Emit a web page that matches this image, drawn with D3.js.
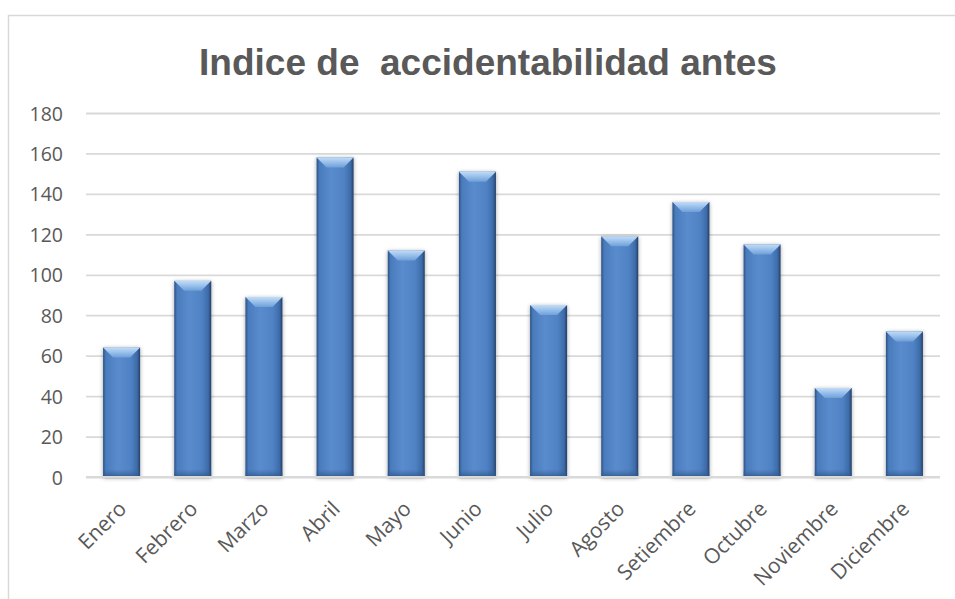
<!DOCTYPE html>
<html>
<head>
<meta charset="utf-8">
<script src="https://cdn.jsdelivr.net/npm/d3@7"></script>
<style>
  body { margin: 0; background: #fff; }
  svg { display: block; }
</style>
</head>
<body>
<div id="chart"></div>
<script>
// -- DATA --
var months = ['Enero', 'Febrero', 'Marzo', 'Abril', 'Mayo', 'Junio', 'Julio',
  'Agosto', 'Setiembre', 'Octubre', 'Noviembre', 'Diciembre']
var values = [64, 97, 89, 158, 112, 151, 85, 119, 136, 115, 44, 72]
var yTicks = [0, 20, 40, 60, 80, 100, 120, 140, 160, 180]
var title = 'Indice de  accidentabilidad antes'

// -- LAYOUT --
width = 955
height = 599
margin = {left:86, right:15, top:113, bottom:122}

var svg = d3.select('#chart').append('svg')
  .attr('width', width)
  .attr('height', height)

var defs = svg.append('defs')

// body gradient: dark edges, lighter middle
var gBody = defs.append('linearGradient').attr('id', 'barBody')
  .attr('x1', 0).attr('x2', 1).attr('y1', 0).attr('y2', 0)
gBody.append('stop').attr('offset', '0%').attr('stop-color', '#2c5284')
gBody.append('stop').attr('offset', '8%').attr('stop-color', '#4a7cbd')
gBody.append('stop').attr('offset', '40%').attr('stop-color', '#5a8ccd')
gBody.append('stop').attr('offset', '75%').attr('stop-color', '#4f82c4')
gBody.append('stop').attr('offset', '92%').attr('stop-color', '#3d6ba8')
gBody.append('stop').attr('offset', '100%').attr('stop-color', '#243f66')

var gTop = defs.append('linearGradient').attr('id', 'barTop')
  .attr('x1', 0).attr('x2', 0).attr('y1', 0).attr('y2', 1)
gTop.append('stop').attr('offset', '0%').attr('stop-color', '#c2dcf6')
gTop.append('stop').attr('offset', '45%').attr('stop-color', '#9cc2ec')
gTop.append('stop').attr('offset', '100%').attr('stop-color', '#6e9fd9')

var gBottom = defs.append('linearGradient').attr('id', 'barBottom')
  .attr('x1', 0).attr('x2', 0).attr('y1', 0).attr('y2', 1)
gBottom.append('stop').attr('offset', '0%').attr('stop-color', '#3a66a0').attr('stop-opacity', 0)
gBottom.append('stop').attr('offset', '100%').attr('stop-color', '#2d5183').attr('stop-opacity', 0.8)

var shadow = defs.append('filter').attr('id', 'shadow')
  .attr('x', '-30%').attr('y', '-10%').attr('width', '160%').attr('height', '130%')
shadow.append('feDropShadow')
  .attr('dx', 0).attr('dy', 1)
  .attr('stdDeviation', 2.2)
  .attr('flood-color', '#000')
  .attr('flood-opacity', 0.35)

// chart border
svg.append('rect')
  .attr('x', 8.5)
  .attr('y', 15.5)
  .attr('width', 1000)
  .attr('height', 700)
  .style('fill', 'none')
  .style('stroke', '#d9d9d9')
  .style('stroke-width', '1.5px')

// title
svg.append('text')
  .attr('x', 488)
  .attr('y', 75)
  .style('font-family', '"Liberation Sans", Arial, sans-serif')
  .style('font-weight', '700')
  .style('font-size', '37px')
  .style('fill', '#595959')
  .style('text-anchor', 'middle')
  .style('white-space', 'pre')
  .text(title)

// -- SCALES --
var xMap = d3.scaleBand()
  .domain(months)
  .range([margin.left, width - margin.right])
  .paddingInner(0.48)
  .paddingOuter(0.24)

var yMap = d3.scaleLinear()
  .domain([0, 180])
  .range([height - margin.bottom, margin.top])

// gridlines
var yAxis = d3.axisLeft(yMap)
  .tickValues(yTicks)
  .tickSize(-(width - margin.right - margin.left))
  .tickPadding(23)

var gY = svg.append('g')
  .attr('transform', 'translate(' + margin.left + ',0)')
  .call(yAxis)
gY.select('.domain').remove()
gY.selectAll('line')
  .style('stroke', '#d9d9d9')
  .style('stroke-width', '1.8px')
gY.selectAll('text')
  .style('font-family', '"Open Sans", sans-serif')
  .style('font-size', '19.5px')
  .style('fill', '#595959')
  .attr('dy', '0.36em')

// bars
var bw = xMap.bandwidth()
var bev = 10
var gBars = svg.append('g')
  .selectAll('g')
  .data(months.map((m, i) => ({month: m, value: values[i]})))
  .enter().append('g')
    .attr('filter', 'url(#shadow)')

gBars.append('rect')
  .attr('x', d => xMap(d.month))
  .attr('y', d => yMap(d.value))
  .attr('width', bw)
  .attr('height', d => yMap(0) - yMap(d.value))
  .style('fill', 'url(#barBody)')

gBars.append('rect')
  .attr('x', d => xMap(d.month))
  .attr('y', d => yMap(0) - 8)
  .attr('width', bw)
  .attr('height', 8)
  .style('fill', 'url(#barBottom)')

gBars.append('polygon')
  .attr('points', d => {
    var x0 = xMap(d.month), x1 = x0 + bw, y0 = yMap(d.value)
    return [[x0, y0], [x1, y0], [x1 - bev, y0 + bev], [x0 + bev, y0 + bev]].join(' ')
  })
  .style('fill', 'url(#barTop)')

// x axis line
svg.append('line')
  .attr('x1', margin.left)
  .attr('x2', width - margin.right)
  .attr('y1', yMap(0))
  .attr('y2', yMap(0))
  .style('stroke', '#d9d9d9')
  .style('stroke-width', '2px')

// category labels
svg.append('g')
  .selectAll('text')
  .data(months)
  .enter().append('text')
    .attr('transform', d => 'translate(' + (xMap(d) + bw / 2 - 5) + ',' + (yMap(0) + 22) + ') rotate(-45)')
    .attr('dy', '0.75em')
    .style('font-family', '"Open Sans", sans-serif')
    .style('font-size', '21px')
    .style('fill', '#595959')
    .style('text-anchor', 'end')
    .text(d => d)
</script>
</body>
</html>
